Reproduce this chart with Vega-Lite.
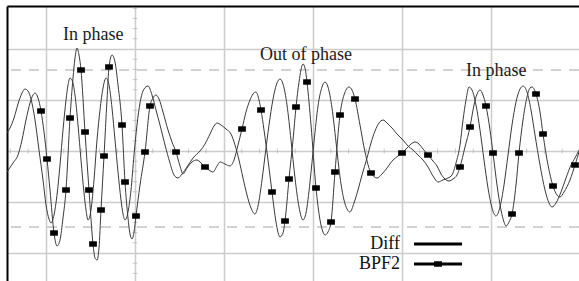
{
  "$schema": "https://vega.github.io/schema/vega-lite/v6.json",
  "autosize": "none",
  "width": 572,
  "height": 275,
  "padding": {"left": 7, "top": 6, "right": 0, "bottom": 0},
  "background": "white",
  "config": {"view": {"stroke": null}},
  "datasets": {
    "sig": [
      {"s":"Diff","t":0,"v":18},{"s":"Diff","t":3,"v":23},{"s":"Diff","t":7,"v":33},{"s":"Diff","t":11,"v":47},{"s":"Diff","t":15,"v":58},{"s":"Diff","t":18,"v":62},{"s":"Diff","t":21,"v":60},{"s":"Diff","t":24,"v":52},{"s":"Diff","t":28,"v":31},{"s":"Diff","t":32,"v":1},{"s":"Diff","t":36,"v":-29},{"s":"Diff","t":39,"v":-54},{"s":"Diff","t":42,"v":-68},{"s":"Diff","t":44,"v":-72},{"s":"Diff","t":47,"v":-64},{"s":"Diff","t":50,"v":-44},{"s":"Diff","t":53,"v":-14},{"s":"Diff","t":56,"v":21},{"s":"Diff","t":59,"v":51},{"s":"Diff","t":61,"v":66},{"s":"Diff","t":63,"v":73},{"s":"Diff","t":65,"v":71},{"s":"Diff","t":68,"v":56},{"s":"Diff","t":71,"v":26},{"s":"Diff","t":74,"v":-9},{"s":"Diff","t":77,"v":-42},{"s":"Diff","t":79,"v":-59},{"s":"Diff","t":81,"v":-69},{"s":"Diff","t":84,"v":-59},{"s":"Diff","t":87,"v":-29},{"s":"Diff","t":90,"v":11},{"s":"Diff","t":93,"v":41},{"s":"Diff","t":96,"v":63},{"s":"Diff","t":99,"v":73},{"s":"Diff","t":102,"v":66},{"s":"Diff","t":105,"v":43},{"s":"Diff","t":108,"v":11},{"s":"Diff","t":111,"v":-21},{"s":"Diff","t":114,"v":-49},{"s":"Diff","t":116,"v":-63},{"s":"Diff","t":118,"v":-69},{"s":"Diff","t":121,"v":-61},{"s":"Diff","t":124,"v":-39},{"s":"Diff","t":127,"v":-4},{"s":"Diff","t":130,"v":26},{"s":"Diff","t":133,"v":48},{"s":"Diff","t":137,"v":62},{"s":"Diff","t":141,"v":65},{"s":"Diff","t":145,"v":56},{"s":"Diff","t":149,"v":41},{"s":"Diff","t":153,"v":26},{"s":"Diff","t":158,"v":6},{"s":"Diff","t":163,"v":-12},{"s":"Diff","t":167,"v":-24},{"s":"Diff","t":171,"v":-27},{"s":"Diff","t":175,"v":-23},{"s":"Diff","t":180,"v":-16},{"s":"Diff","t":186,"v":-7},{"s":"Diff","t":193,"v":0},{"s":"Diff","t":198,"v":7},{"s":"Diff","t":203,"v":17},{"s":"Diff","t":207,"v":25},{"s":"Diff","t":210,"v":28},{"s":"Diff","t":214,"v":26},{"s":"Diff","t":219,"v":22},{"s":"Diff","t":224,"v":17},{"s":"Diff","t":228,"v":6},{"s":"Diff","t":232,"v":-9},{"s":"Diff","t":236,"v":-27},{"s":"Diff","t":240,"v":-44},{"s":"Diff","t":244,"v":-57},{"s":"Diff","t":248,"v":-63},{"s":"Diff","t":251,"v":-55},{"s":"Diff","t":255,"v":-29},{"s":"Diff","t":259,"v":3},{"s":"Diff","t":263,"v":33},{"s":"Diff","t":267,"v":57},{"s":"Diff","t":270,"v":68},{"s":"Diff","t":273,"v":72},{"s":"Diff","t":276,"v":67},{"s":"Diff","t":280,"v":46},{"s":"Diff","t":284,"v":11},{"s":"Diff","t":288,"v":-27},{"s":"Diff","t":292,"v":-56},{"s":"Diff","t":296,"v":-69},{"s":"Diff","t":299,"v":-62},{"s":"Diff","t":303,"v":-31},{"s":"Diff","t":307,"v":9},{"s":"Diff","t":311,"v":45},{"s":"Diff","t":315,"v":64},{"s":"Diff","t":318,"v":69},{"s":"Diff","t":321,"v":64},{"s":"Diff","t":325,"v":43},{"s":"Diff","t":329,"v":9},{"s":"Diff","t":333,"v":-26},{"s":"Diff","t":337,"v":-49},{"s":"Diff","t":340,"v":-58},{"s":"Diff","t":343,"v":-61},{"s":"Diff","t":347,"v":-52},{"s":"Diff","t":351,"v":-39},{"s":"Diff","t":355,"v":-24},{"s":"Diff","t":360,"v":-7},{"s":"Diff","t":364,"v":8},{"s":"Diff","t":368,"v":20},{"s":"Diff","t":372,"v":28},{"s":"Diff","t":376,"v":31},{"s":"Diff","t":380,"v":28},{"s":"Diff","t":385,"v":23},{"s":"Diff","t":390,"v":17},{"s":"Diff","t":396,"v":11},{"s":"Diff","t":401,"v":5},{"s":"Diff","t":406,"v":1},{"s":"Diff","t":411,"v":-4},{"s":"Diff","t":416,"v":-9},{"s":"Diff","t":421,"v":-16},{"s":"Diff","t":426,"v":-25},{"s":"Diff","t":431,"v":-31},{"s":"Diff","t":436,"v":-29},{"s":"Diff","t":441,"v":-27},{"s":"Diff","t":445,"v":-24},{"s":"Diff","t":449,"v":-12},{"s":"Diff","t":453,"v":6},{"s":"Diff","t":456,"v":31},{"s":"Diff","t":459,"v":51},{"s":"Diff","t":462,"v":64},{"s":"Diff","t":465,"v":61},{"s":"Diff","t":469,"v":46},{"s":"Diff","t":473,"v":21},{"s":"Diff","t":477,"v":-9},{"s":"Diff","t":481,"v":-37},{"s":"Diff","t":485,"v":-57},{"s":"Diff","t":489,"v":-65},{"s":"Diff","t":493,"v":-56},{"s":"Diff","t":497,"v":-34},{"s":"Diff","t":501,"v":-4},{"s":"Diff","t":505,"v":26},{"s":"Diff","t":509,"v":49},{"s":"Diff","t":513,"v":62},{"s":"Diff","t":516,"v":65},{"s":"Diff","t":520,"v":59},{"s":"Diff","t":524,"v":41},{"s":"Diff","t":528,"v":16},{"s":"Diff","t":533,"v":-14},{"s":"Diff","t":538,"v":-39},{"s":"Diff","t":542,"v":-52},{"s":"Diff","t":545,"v":-56},{"s":"Diff","t":549,"v":-52},{"s":"Diff","t":554,"v":-41},{"s":"Diff","t":559,"v":-27},{"s":"Diff","t":564,"v":-14},{"s":"Diff","t":568,"v":-7},{"s":"Diff","t":572,"v":1},
      {"s":"BPF2","t":0,"v":-21},{"s":"BPF2","t":6,"v":-12},{"s":"BPF2","t":11,"v":-4},{"s":"BPF2","t":15,"v":11},{"s":"BPF2","t":19,"v":31},{"s":"BPF2","t":23,"v":48},{"s":"BPF2","t":26,"v":56},{"s":"BPF2","t":28,"v":58},{"s":"BPF2","t":31,"v":53},{"s":"BPF2","t":34,"v":40,"m":1},{"s":"BPF2","t":37,"v":19},{"s":"BPF2","t":40,"v":-8,"m":1},{"s":"BPF2","t":43,"v":-39},{"s":"BPF2","t":47,"v":-82,"m":1},{"s":"BPF2","t":50,"v":-95},{"s":"BPF2","t":53,"v":-89},{"s":"BPF2","t":56,"v":-67},{"s":"BPF2","t":59,"v":-39,"m":1},{"s":"BPF2","t":63,"v":33,"m":1},{"s":"BPF2","t":66,"v":73},{"s":"BPF2","t":68,"v":93},{"s":"BPF2","t":70,"v":103},{"s":"BPF2","t":72,"v":96},{"s":"BPF2","t":74,"v":81,"m":1},{"s":"BPF2","t":78,"v":19,"m":1},{"s":"BPF2","t":82,"v":-39,"m":1},{"s":"BPF2","t":86,"v":-93,"m":1},{"s":"BPF2","t":88,"v":-107},{"s":"BPF2","t":90,"v":-109},{"s":"BPF2","t":92,"v":-97},{"s":"BPF2","t":94,"v":-59,"m":1},{"s":"BPF2","t":97,"v":-5,"m":1},{"s":"BPF2","t":100,"v":51},{"s":"BPF2","t":102,"v":84,"m":1},{"s":"BPF2","t":105,"v":96},{"s":"BPF2","t":108,"v":89},{"s":"BPF2","t":111,"v":66},{"s":"BPF2","t":115,"v":26,"m":1},{"s":"BPF2","t":118,"v":-31,"m":1},{"s":"BPF2","t":121,"v":-67},{"s":"BPF2","t":123,"v":-83},{"s":"BPF2","t":125,"v":-88},{"s":"BPF2","t":127,"v":-81},{"s":"BPF2","t":129,"v":-65,"m":1},{"s":"BPF2","t":133,"v":-34},{"s":"BPF2","t":138,"v":-1,"m":1},{"s":"BPF2","t":143,"v":45,"m":1},{"s":"BPF2","t":146,"v":53},{"s":"BPF2","t":149,"v":56},{"s":"BPF2","t":152,"v":52},{"s":"BPF2","t":156,"v":39},{"s":"BPF2","t":161,"v":21},{"s":"BPF2","t":165,"v":9},{"s":"BPF2","t":169,"v":-1,"m":1},{"s":"BPF2","t":173,"v":-15},{"s":"BPF2","t":176,"v":-23},{"s":"BPF2","t":180,"v":-17},{"s":"BPF2","t":185,"v":-11},{"s":"BPF2","t":190,"v":-9},{"s":"BPF2","t":194,"v":-12},{"s":"BPF2","t":198,"v":-16,"m":1},{"s":"BPF2","t":202,"v":-19},{"s":"BPF2","t":206,"v":-21},{"s":"BPF2","t":210,"v":-15},{"s":"BPF2","t":213,"v":-11},{"s":"BPF2","t":218,"v":-13},{"s":"BPF2","t":223,"v":-15},{"s":"BPF2","t":227,"v":-9},{"s":"BPF2","t":231,"v":6},{"s":"BPF2","t":235,"v":22,"m":1},{"s":"BPF2","t":239,"v":39},{"s":"BPF2","t":243,"v":51},{"s":"BPF2","t":246,"v":57},{"s":"BPF2","t":249,"v":59},{"s":"BPF2","t":252,"v":51},{"s":"BPF2","t":254,"v":41,"m":1},{"s":"BPF2","t":257,"v":21},{"s":"BPF2","t":261,"v":-9},{"s":"BPF2","t":265,"v":-41,"m":1},{"s":"BPF2","t":269,"v":-71},{"s":"BPF2","t":273,"v":-86},{"s":"BPF2","t":276,"v":-82},{"s":"BPF2","t":278,"v":-70,"m":1},{"s":"BPF2","t":282,"v":-28,"m":1},{"s":"BPF2","t":286,"v":11},{"s":"BPF2","t":289,"v":44,"m":1},{"s":"BPF2","t":292,"v":69},{"s":"BPF2","t":296,"v":87},{"s":"BPF2","t":298,"v":83},{"s":"BPF2","t":300,"v":69,"m":1},{"s":"BPF2","t":304,"v":26},{"s":"BPF2","t":309,"v":-37,"m":1},{"s":"BPF2","t":313,"v":-69},{"s":"BPF2","t":316,"v":-81},{"s":"BPF2","t":318,"v":-84},{"s":"BPF2","t":321,"v":-81},{"s":"BPF2","t":324,"v":-71,"m":1},{"s":"BPF2","t":328,"v":-21,"m":1},{"s":"BPF2","t":333,"v":36,"m":1},{"s":"BPF2","t":337,"v":56},{"s":"BPF2","t":342,"v":64},{"s":"BPF2","t":345,"v":61},{"s":"BPF2","t":348,"v":52,"m":1},{"s":"BPF2","t":353,"v":26},{"s":"BPF2","t":358,"v":-1},{"s":"BPF2","t":364,"v":-22,"m":1},{"s":"BPF2","t":370,"v":-27},{"s":"BPF2","t":375,"v":-23},{"s":"BPF2","t":380,"v":-17},{"s":"BPF2","t":386,"v":-9},{"s":"BPF2","t":391,"v":-5},{"s":"BPF2","t":395,"v":-2,"m":1},{"s":"BPF2","t":400,"v":3},{"s":"BPF2","t":404,"v":7},{"s":"BPF2","t":408,"v":9},{"s":"BPF2","t":412,"v":7},{"s":"BPF2","t":416,"v":2},{"s":"BPF2","t":421,"v":-4,"m":1},{"s":"BPF2","t":426,"v":-10},{"s":"BPF2","t":430,"v":-15},{"s":"BPF2","t":434,"v":-23},{"s":"BPF2","t":438,"v":-28},{"s":"BPF2","t":442,"v":-30},{"s":"BPF2","t":446,"v":-28},{"s":"BPF2","t":450,"v":-24},{"s":"BPF2","t":453,"v":-16,"m":1},{"s":"BPF2","t":458,"v":4},{"s":"BPF2","t":463,"v":24,"m":1},{"s":"BPF2","t":467,"v":46},{"s":"BPF2","t":470,"v":57},{"s":"BPF2","t":473,"v":61},{"s":"BPF2","t":476,"v":56},{"s":"BPF2","t":479,"v":45,"m":1},{"s":"BPF2","t":483,"v":21},{"s":"BPF2","t":486,"v":-2,"m":1},{"s":"BPF2","t":490,"v":-34},{"s":"BPF2","t":494,"v":-59},{"s":"BPF2","t":497,"v":-71},{"s":"BPF2","t":499,"v":-75},{"s":"BPF2","t":502,"v":-71},{"s":"BPF2","t":505,"v":-63,"m":1},{"s":"BPF2","t":509,"v":-34},{"s":"BPF2","t":512,"v":-2,"m":1},{"s":"BPF2","t":516,"v":31},{"s":"BPF2","t":520,"v":54},{"s":"BPF2","t":523,"v":63},{"s":"BPF2","t":525,"v":64},{"s":"BPF2","t":529,"v":57,"m":1},{"s":"BPF2","t":533,"v":39},{"s":"BPF2","t":536,"v":17,"m":1},{"s":"BPF2","t":541,"v":-14},{"s":"BPF2","t":546,"v":-35,"m":1},{"s":"BPF2","t":550,"v":-44},{"s":"BPF2","t":553,"v":-46},{"s":"BPF2","t":557,"v":-41},{"s":"BPF2","t":563,"v":-29},{"s":"BPF2","t":568,"v":-14,"m":1},{"s":"BPF2","t":572,"v":-1}
    ],
    "hticks": [{"t":3.4},{"t":21.2},{"t":56.8},{"t":74.6},{"t":92.4},{"t":110.2},{"t":145.8},{"t":163.6},{"t":181.4},{"t":199.2},{"t":234.8},{"t":252.6},{"t":270.4},{"t":288.2},{"t":323.8},{"t":341.6},{"t":359.4},{"t":377.2},{"t":412.8},{"t":430.6},{"t":448.4},{"t":466.2},{"t":501.8},{"t":519.6},{"t":537.4},{"t":555.2}],
    "vticks": [{"v":10.2},{"v":20.4},{"v":30.6},{"v":40.8},{"v":61.2},{"v":71.4},{"v":81.6},{"v":91.8},{"v":112.2},{"v":122.4},{"v":132.6},{"v":142.8},{"v":-10.2},{"v":-20.4},{"v":-30.6},{"v":-40.8},{"v":-61.2},{"v":-71.4},{"v":-81.6},{"v":-91.8},{"v":-112.2},{"v":-122.4}],
    "dash": [{"v":81},{"v":-76}],
    "notes": [{"t":56,"v":111,"label":"In phase"},{"t":253,"v":91,"label":"Out of phase"},{"t":459,"v":75,"label":"In phase"}],
    "leg": [{"s":"Diff"},{"s":"BPF2"}]
  },
  "layer": [
    {
      "data": {"name": "dash"},
      "mark": {"type": "rule", "color": "#c4c4c4", "strokeWidth": 1.5, "strokeDash": [10, 8]},
      "encoding": {
        "y": {"field": "v", "type": "quantitative", "scale": {"domain": [-130, 145], "nice": false, "zero": false},
          "axis": {"orient": "left", "values": [102, 51, 0, -51, -102], "grid": true, "gridColor": "#cccccc", "gridWidth": 1.5, "labels": false, "ticks": false, "domain": true, "domainColor": "#000000", "domainWidth": 2, "title": null}}
      }
    },
    {
      "data": {"name": "hticks"},
      "mark": {"type": "tick", "orient": "vertical", "size": 5, "thickness": 1, "color": "#b5b5b5"},
      "encoding": {
        "x": {"field": "t", "type": "quantitative", "scale": {"domain": [0, 572], "nice": false, "zero": false},
          "axis": {"orient": "top", "values": [39, 128, 217, 306, 395, 484], "grid": true, "gridColor": "#cccccc", "gridWidth": 1.5, "labels": false, "ticks": false, "domain": true, "domainColor": "#000000", "domainWidth": 2, "title": null}},
        "y": {"datum": 0, "type": "quantitative"}
      }
    },
    {
      "data": {"name": "vticks"},
      "mark": {"type": "tick", "orient": "horizontal", "size": 5, "thickness": 1, "color": "#b5b5b5"},
      "encoding": {
        "x": {"datum": 128, "type": "quantitative"},
        "y": {"field": "v", "type": "quantitative"}
      }
    },
    {
      "data": {"name": "sig"},
      "mark": {"type": "line", "interpolate": "monotone", "strokeWidth": 1, "color": "#3a3a3a", "clip": true},
      "encoding": {
        "x": {"field": "t", "type": "quantitative"},
        "y": {"field": "v", "type": "quantitative"},
        "detail": {"field": "s"}
      }
    },
    {
      "data": {"name": "sig"},
      "transform": [{"filter": "datum.m == 1"}],
      "mark": {"type": "point", "shape": "M-1,-0.7H1V0.7H-1Z", "size": 60, "filled": true, "color": "#000000", "opacity": 1, "strokeWidth": 0},
      "encoding": {
        "x": {"field": "t", "type": "quantitative"},
        "y": {"field": "v", "type": "quantitative"}
      }
    },
    {
      "data": {"name": "notes"},
      "mark": {"type": "text", "align": "left", "baseline": "alphabetic", "font": "Liberation Serif", "fontSize": 18, "color": "#1a1a1a"},
      "encoding": {
        "x": {"field": "t", "type": "quantitative"},
        "y": {"field": "v", "type": "quantitative"},
        "text": {"field": "label"}
      }
    },
    {
      "data": {"name": "leg"},
      "mark": {"type": "point", "filled": false, "color": "#000000", "opacity": 0},
      "encoding": {
        "shape": {"field": "s", "type": "nominal",
          "scale": {"domain": ["Diff", "BPF2"], "range": ["M-4,0H4", "M-4,0H4M-0.4,-0.2H0.4V0.2H-0.4Z"]},
          "legend": {"orient": "none", "legendX": 422, "legendY": 229, "title": null, "padding": 0, "rowPadding": 2,
            "symbolSize": 144, "symbolStrokeWidth": 3, "symbolStrokeColor": "#000000", "symbolFillColor": "#000000", "symbolOpacity": 1,
            "labelFont": "Liberation Serif", "labelFontSize": 18, "labelColor": "#111111", "labelAlign": "right", "labelOffset": -47, "labelLimit": 0}}
      }
    }
  ]
}
